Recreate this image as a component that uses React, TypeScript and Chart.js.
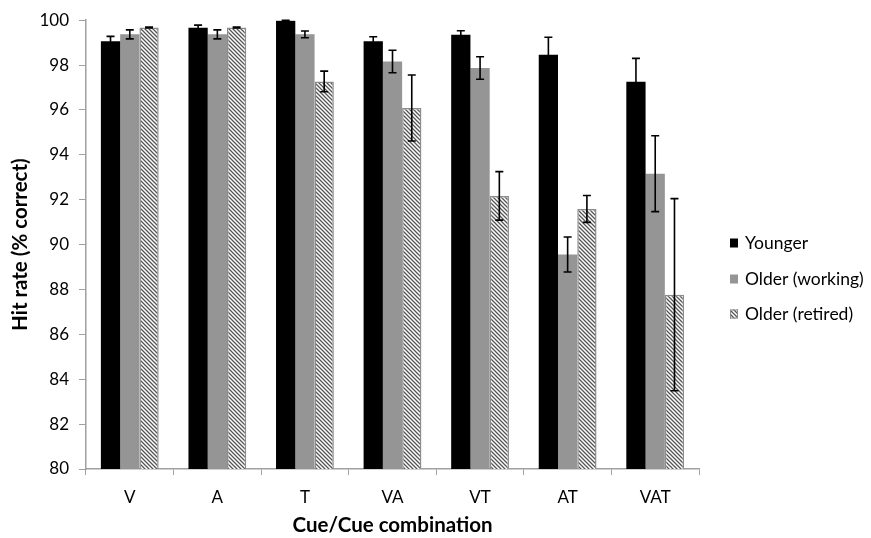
import React, { useEffect, useRef } from "react";
import { Chart, registerables } from "chart.js";

Chart.register(...registerables);

const categories = ["V", "A", "T", "VA", "VT", "AT", "VAT"];
const seriesNames = ["Younger", "Older (working)", "Older (retired)"];
const younger = [99.06, 99.66, 99.97, 99.06, 99.35, 98.46, 97.26];
const olderWorking = [99.37, 99.37, 99.37, 98.16, 97.87, 89.56, 93.16];
const olderRetired = [99.68, 99.68, 97.27, 96.09, 92.17, 91.59, 87.77];
const youngerErr = [0.22, 0.12, 0.03, 0.2, 0.18, 0.78, 1.04];
const olderWorkingErr = [0.2, 0.2, 0.15, 0.5, 0.5, 0.78, 1.69];
const olderRetiredErr = [0.02, 0.02, 0.46, 1.47, 1.08, 0.6, 4.28];
const yTicks = [80, 82, 84, 86, 88, 90, 92, 94, 96, 98, 100];

const FONT = "Lato, 'Open Sans', sans-serif";

function makeHatch(): CanvasPattern | string {
  const c = document.createElement("canvas");
  const s = 4;
  c.width = s;
  c.height = s;
  const ctx = c.getContext("2d");
  if (!ctx) return "#ccc";
  ctx.fillStyle = "#ffffff";
  ctx.fillRect(0, 0, s, s);
  ctx.strokeStyle = "#555555";
  ctx.lineWidth = 1.3;
  ctx.beginPath();
  ctx.moveTo(-1, -1);
  ctx.lineTo(s + 1, s + 1);
  ctx.moveTo(-1, s - 1);
  ctx.lineTo(1, s + 1);
  ctx.moveTo(s - 1, -1);
  ctx.lineTo(s + 1, 1);
  ctx.stroke();
  const p = ctx.createPattern(c, "repeat");
  return p || "#ccc";
}

export default function App() {
  const ref = useRef<HTMLCanvasElement>(null);

  useEffect(() => {
    document.body.style.margin = "0";
    const canvas = ref.current;
    if (!canvas) return;
    const hatch = makeHatch();
    const errors = [youngerErr, olderWorkingErr, olderRetiredErr];

    const errorBars = {
      id: "errorBars",
      afterDatasetsDraw(chart: any) {
        const ctx = chart.ctx;
        const yScale = chart.scales.y;
        ctx.save();
        ctx.strokeStyle = "#000";
        ctx.lineWidth = 1.6;
        chart.data.datasets.forEach((ds: any, di: number) => {
          const meta = chart.getDatasetMeta(di);
          meta.data.forEach((bar: any, i: number) => {
            const v = ds.data[i];
            const e = errors[di][i];
            const x = bar.x;
            const yt = yScale.getPixelForValue(v + e);
            const yb = yScale.getPixelForValue(v - e);
            const cw = 4;
            ctx.beginPath();
            ctx.moveTo(x, yt);
            ctx.lineTo(x, yb);
            ctx.moveTo(x - cw, yt);
            ctx.lineTo(x + cw, yt);
            ctx.moveTo(x - cw, yb);
            ctx.lineTo(x + cw, yb);
            ctx.stroke();
          });
        });
        ctx.restore();
      },
    };

    const customLegend = {
      id: "customLegend",
      afterDraw(chart: any) {
        const ctx = chart.ctx;
        ctx.save();
        const rows = [243, 279, 314];
        chart.data.datasets.forEach((ds: any, i: number) => {
          const y = rows[i];
          ctx.fillStyle = ds.backgroundColor;
          ctx.fillRect(730, y - 4.5, 8, 9);
          if (i === 2) {
            ctx.strokeStyle = "#8c8c8c";
            ctx.lineWidth = 1;
            ctx.strokeRect(730.5, y - 4, 7, 8);
          }
          ctx.fillStyle = "#000";
          ctx.font = `17.5px ${FONT}`;
          ctx.textBaseline = "middle";
          ctx.textAlign = "left";
          ctx.fillText(ds.label, 745, y);
        });
        ctx.restore();
      },
    };

    const chart = new Chart(canvas, {
      type: "bar",
      data: {
        labels: categories,
        datasets: [
          {
            label: seriesNames[0],
            data: younger,
            backgroundColor: "#000000",
            borderWidth: 0,
          },
          {
            label: seriesNames[1],
            data: olderWorking,
            backgroundColor: "#959595",
            borderWidth: 0,
          },
          {
            label: seriesNames[2],
            data: olderRetired,
            backgroundColor: hatch as any,
            borderColor: "#8c8c8c",
            borderWidth: 1.5,
          },
        ],
      },
      options: {
        animation: false,
        responsive: false,
        maintainAspectRatio: false,
        layout: { padding: { top: 14, right: 172, left: 0, bottom: 0 } },
        datasets: { bar: { categoryPercentage: 0.66, barPercentage: 1 } },
        plugins: {
          legend: { display: false },
          tooltip: { enabled: false },
        },
        scales: {
          x: {
            grid: {
              offset: true,
              drawOnChartArea: false,
              drawTicks: true,
              tickLength: 6,
              color: "#a0a0a0",
            },
            border: { color: "#a0a0a0", width: 1.5 },
            ticks: {
              color: "#000",
              font: { family: FONT, size: 17 },
              padding: 12,
            },
            title: {
              display: true,
              text: "Cue/Cue combination",
              color: "#000",
              font: { family: FONT, size: 20.5, weight: "bold" },
              padding: { top: 4, bottom: 0 },
            },
            afterFit: (scale: any) => {
              scale.height = 69;
            },
          },
          y: {
            min: 80,
            max: 100,
            afterBuildTicks: (scale: any) => {
              scale.ticks = yTicks.map((v) => ({ value: v }));
            },
            grid: {
              drawOnChartArea: false,
              drawTicks: true,
              tickLength: 7,
              color: "#a0a0a0",
            },
            border: { color: "#a0a0a0", width: 1.5 },
            ticks: {
              color: "#000",
              font: { family: FONT, size: 17 },
              padding: 10,
            },
            title: {
              display: true,
              text: "Hit rate (% correct)",
              color: "#000",
              font: { family: FONT, size: 20.5, weight: "bold" },
              padding: { top: 8, bottom: 0 },
            },
            afterFit: (scale: any) => {
              scale.width = 86;
            },
          },
        },
      },
      plugins: [errorBars, customLegend],
    });
    return () => chart.destroy();
  }, []);

  return (
    <div style={{ width: 871, height: 538 }}>
      <canvas ref={ref} width={871} height={538} style={{ display: "block" }} />
    </div>
  );
}
